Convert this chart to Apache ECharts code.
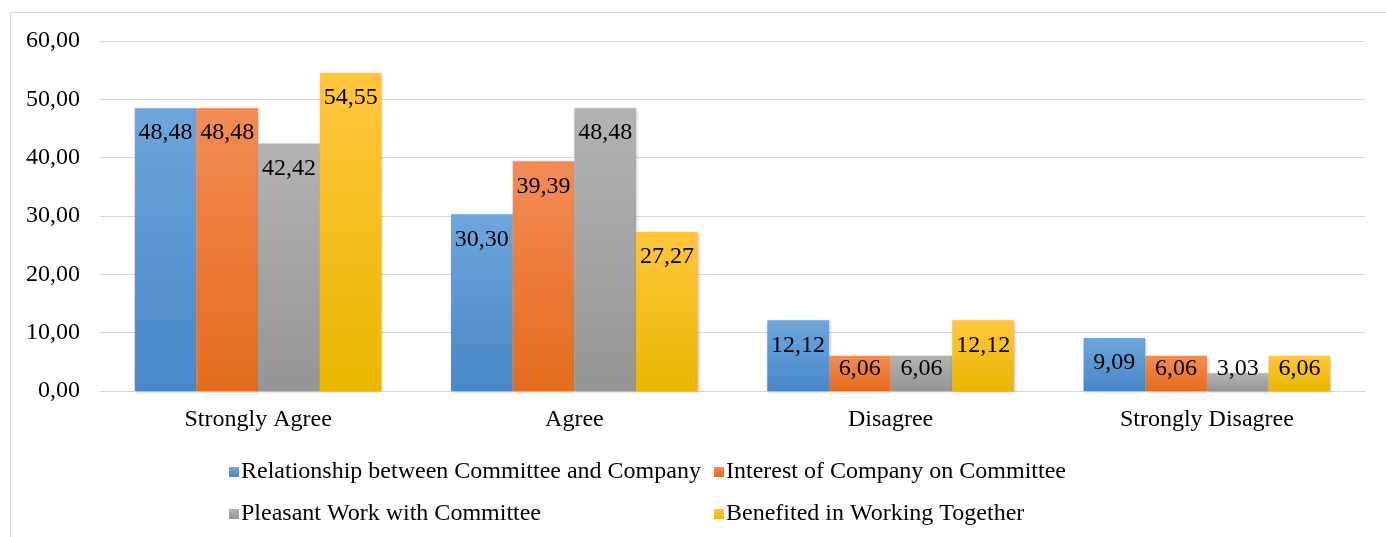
<!DOCTYPE html>
<html>
<head>
<meta charset="utf-8">
<script src="https://cdn.jsdelivr.net/npm/echarts@6/dist/echarts.min.js"></script>
<style>
  html, body { margin: 0; padding: 0; background: #fff; }
  #chart { width: 1386px; height: 537px; }
</style>
</head>
<body>
<div id="chart"></div>
<script>
// data
const categories = ['Strongly Agree', 'Agree', 'Disagree', 'Strongly Disagree'];
const seriesNames = [
  'Relationship between Committee and Company',
  'Interest of Company on Committee',
  'Pleasant Work with Committee',
  'Benefited in Working Together'
];
const relationship = [48.48, 30.30, 12.12, 9.09];
const interest = [48.48, 39.39, 6.06, 6.06];
const pleasant = [42.42, 48.48, 6.06, 3.03];
const benefited = [54.55, 27.27, 12.12, 6.06];

const FONT = '"Liberation Serif", "Times New Roman", serif';
const grad = (top, bottom) => new echarts.graphic.LinearGradient(0, 0, 0, 1, [
  { offset: 0, color: top }, { offset: 1, color: bottom }
]);
const fills = [
  grad('#6ea6dc', '#4787c8'),
  grad('#f28c55', '#e56c1d'),
  grad('#b3b3b3', '#959595'),
  grad('#ffc63d', '#e9b700')
];
const fmt = v => v.toFixed(2).replace('.', ',');
const AXIS_Y = 391;

function bar(name, data, i) {
  return {
    name, type: 'bar', data,
    barCategoryGap: '22%', barGap: '0%',
    itemStyle: { color: fills[i], shadowColor: 'rgba(0,0,0,0.25)', shadowBlur: 3, shadowOffsetX: 1, shadowOffsetY: 1 },
    label: {
      show: true, position: 'insideTop', distance: 13,
      fontFamily: FONT, fontSize: 24, color: '#000',
      formatter: p => fmt(p.value)
    },
    // keep short-bar labels above the axis, like the original
    labelLayout: p => {
      const r = p.labelRect;
      const maxY = AXIS_Y - 10 - r.height;
      return r.y > maxY
        ? { x: r.x, y: maxY, align: 'left', verticalAlign: 'top' }
        : {};
    }
  };
}

const legendText = { fontFamily: FONT, fontSize: 24, color: '#000', padding: [0, 0, 0, -3] };

const chart = echarts.init(document.getElementById('chart'), null, { renderer: 'canvas' });
chart.setOption({
  animation: false,
  graphic: [{
    type: 'rect', left: 8, top: 10,
    shape: { width: 1390, height: 540 },
    style: { fill: 'none', stroke: '#d9d9d9', lineWidth: 1 }
  }],
  grid: { left: 100, right: 21, top: 41, bottom: 146 },
  legend: [
    {
      data: [seriesNames[0], seriesNames[2]], orient: 'vertical',
      left: 224, top: 455, itemGap: 18, itemWidth: 10, itemHeight: 10, icon: 'rect',
      textStyle: legendText
    },
    {
      data: [seriesNames[1], seriesNames[3]], orient: 'vertical',
      left: 709, top: 455, itemGap: 18, itemWidth: 10, itemHeight: 10, icon: 'rect',
      textStyle: legendText
    }
  ],
  xAxis: {
    type: 'category', data: categories,
    axisLine: { lineStyle: { color: '#d9d9d9', width: 1 } },
    axisTick: { show: false },
    axisLabel: { fontFamily: FONT, fontSize: 24, color: '#000', margin: 17 }
  },
  yAxis: {
    type: 'value', min: 0, max: 60, interval: 10,
    axisLine: { show: false }, axisTick: { show: false },
    splitLine: { lineStyle: { color: '#d9d9d9', width: 1 } },
    axisLabel: { fontFamily: FONT, fontSize: 24, color: '#000', margin: 20, formatter: v => fmt(v) }
  },
  series: [
    bar(seriesNames[0], relationship, 0),
    bar(seriesNames[1], interest, 1),
    bar(seriesNames[2], pleasant, 2),
    bar(seriesNames[3], benefited, 3)
  ]
});
</script>
</body>
</html>
